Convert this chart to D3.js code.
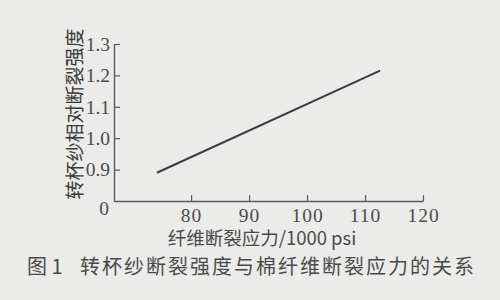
<!DOCTYPE html>
<html>
<head>
<meta charset="utf-8">
<script src="https://cdnjs.cloudflare.com/ajax/libs/d3/7.8.5/d3.min.js"></script>
<style>
    html, body { margin: 0; padding: 0; background: #ebebe9; }
    svg { display: block; }
</style>
</head>
<body>
<div class="chart"></div>
<script>
// data
var xTicks = [80, 90, 100, 110, 120];
var yTicks = [0.9, 1.0, 1.1, 1.2, 1.3];
var fiberStress = [74.1, 112.6];      // 1000 psi
var yarnStrength = [0.89, 1.215];     // relative breaking strength

var xTitle = "纤维断裂应力/1000 psi",
    yTitle = "转杯纱相对断裂强度",
    figNo = "图 1",
    caption = "转杯纱断裂强度与棉纤维断裂应力的关系";

var width = 500,
    height = 300;

var svg = d3.select('.chart')
    .append("svg")
    .attr("width", width)
    .attr("height", height);

svg.append("rect")
    .attr("width", width)
    .attr("height", height)
    .attr("fill", "#ebebe9");

// axes start at a break, the origin is just labelled "0"
var x = d3.scaleLinear()
    .domain([66.7, 120])
    .range([114, 423]);

var y = d3.scaleLinear()
    .domain([0.8, 1.3])
    .range([201, 44]);

var serif = "'Liberation Serif', 'DejaVu Serif', serif",
    cjk = "'Noto Sans CJK SC', sans-serif";

var xAxis = d3.axisBottom(x)
    .tickValues(xTicks)
    .tickSizeInner(-6)
    .tickSizeOuter(0)
    .tickPadding(7)
    .tickFormat(d3.format("d"));

var yAxis = d3.axisLeft(y)
    .tickValues(yTicks)
    .tickSizeInner(-6)
    .tickSizeOuter(0)
    .tickPadding(4)
    .tickFormat(d3.format(".1f"));

var gx = svg.append("g")
    .attr("transform", "translate(0," + y(0.8) + ")")
    .call(xAxis);

var gy = svg.append("g")
    .attr("transform", "translate(" + x(66.7) + ",0)")
    .call(yAxis);

[gx, gy].forEach(function (g) {
    g.select(".domain").attr("stroke", "#5a5a5a").attr("stroke-width", 1.4);
    g.selectAll(".tick line").attr("stroke", "#5a5a5a").attr("stroke-width", 1.2);
    g.selectAll(".tick text")
        .attr("fill", "#4c4c4c")
        .style("font-family", serif)
        .style("font-size", "19.5px");
});

gx.selectAll(".tick text").attr("letter-spacing", "1px");

// "0" at the origin
svg.append("text")
    .attr("x", x(66.7) - 5)
    .attr("y", y(0.8) + 14)
    .attr("text-anchor", "end")
    .attr("fill", "#4c4c4c")
    .style("font-family", serif)
    .style("font-size", "19.5px")
    .text("0");

var line = d3.line()
    .x(function (d) { return x(d[0]); })
    .y(function (d) { return y(d[1]); });

svg.append("path")
    .datum(d3.zip(fiberStress, yarnStrength))
    .attr("d", line)
    .attr("fill", "none")
    .attr("stroke", "#3c3c3c")
    .attr("stroke-width", 2);

// axis titles
svg.append("text")
    .attr("transform", "translate(82,114) rotate(-90)")
    .attr("text-anchor", "middle")
    .attr("fill", "#3a3a3a")
    .style("font-family", cjk)
    .style("font-size", "19px")
    .text(yTitle);

svg.append("text")
    .attr("x", 262)
    .attr("y", 245)
    .attr("text-anchor", "middle")
    .attr("fill", "#4a4a4a")
    .style("font-family", cjk)
    .style("font-size", "18.5px")
    .text(xTitle);

// figure caption
svg.append("text")
    .attr("x", 27)
    .attr("y", 274)
    .attr("fill", "#4a4a4a")
    .style("font-family", cjk)
    .style("font-size", "20px")
    .text(figNo);

svg.append("text")
    .attr("x", 80)
    .attr("y", 274)
    .attr("fill", "#4a4a4a")
    .attr("letter-spacing", "2px")
    .style("font-family", cjk)
    .style("font-size", "20px")
    .text(caption);
</script>
</body>
</html>
